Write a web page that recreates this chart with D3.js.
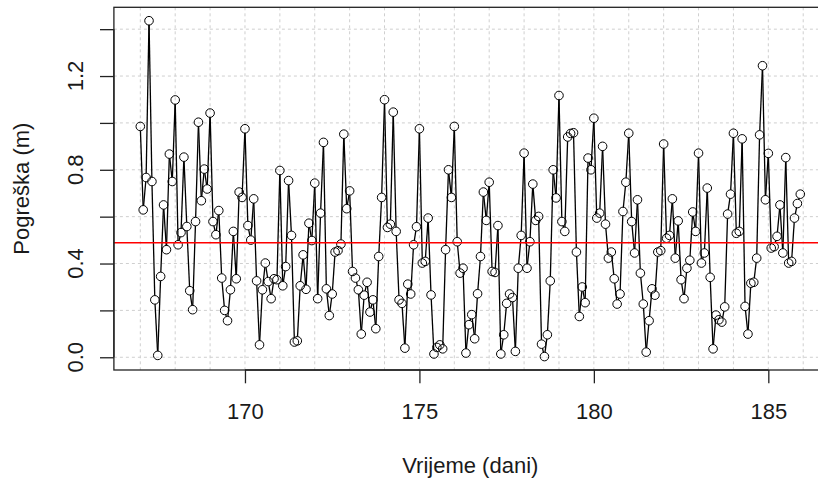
<!DOCTYPE html>
<html>
<head>
<meta charset="utf-8">
<script src="https://cdn.jsdelivr.net/npm/d3@7"></script>
<style>
  html, body { margin: 0; padding: 0; background: #ffffff; }
  svg { display: block; }
  text { font-family: "Liberation Sans", Arial, sans-serif; fill: #1a1a1a; }
</style>
</head>
<body>
<svg id="chart" width="818" height="479"></svg>
<script>
// ---- data ----
const startDay = 167.0;          // first sample time (days)
const stepDays = 1 / 12;         // sampling interval: 2 hours
const errorValues = [
  0.985, 0.629, 0.767, 1.436, 0.750, 0.245, 0.008, 0.345, 0.650, 0.459,
  0.867, 0.750, 1.098, 0.480, 0.532, 0.854, 0.558, 0.284, 0.203, 0.579,
  1.003, 0.668, 0.803, 0.718, 1.042, 0.579, 0.523, 0.626, 0.338, 0.200,
  0.156, 0.288, 0.537, 0.335, 0.705, 0.682, 0.975, 0.562, 0.500, 0.676,
  0.326, 0.053, 0.288, 0.402, 0.323, 0.250, 0.335, 0.331, 0.797, 0.305,
  0.387, 0.754, 0.520, 0.065, 0.070, 0.305, 0.437, 0.290, 0.572, 0.498,
  0.743, 0.250, 0.615, 0.917, 0.292, 0.178, 0.270, 0.449, 0.455, 0.483,
  0.952, 0.634, 0.710, 0.366, 0.338, 0.288, 0.099, 0.265, 0.320, 0.193,
  0.245, 0.122, 0.430, 0.682, 1.099, 0.554, 0.568, 1.046, 0.537, 0.245,
  0.230, 0.039, 0.312, 0.270, 0.480, 0.557, 0.975, 0.402, 0.409, 0.594,
  0.266, 0.014, 0.042, 0.053, 0.036, 0.459, 0.800, 0.682, 0.985, 0.493,
  0.359, 0.380, 0.018, 0.139, 0.182, 0.079, 0.271, 0.430, 0.705, 0.584,
  0.747, 0.366, 0.362, 0.562, 0.014, 0.096, 0.230, 0.270, 0.255, 0.025,
  0.380, 0.520, 0.871, 0.380, 0.493, 0.739, 0.584, 0.601, 0.056, 0.003,
  0.096, 0.326, 0.800, 0.680, 1.117, 0.579, 0.537, 0.940, 0.955, 0.958,
  0.449, 0.174, 0.300, 0.233, 0.850, 0.800, 1.020, 0.594, 0.615, 0.900,
  0.568, 0.423, 0.449, 0.335, 0.227, 0.270, 0.622, 0.747, 0.956, 0.579,
  0.445, 0.672, 0.359, 0.227, 0.022, 0.156, 0.292, 0.265, 0.449, 0.455,
  0.910, 0.508, 0.520, 0.676, 0.423, 0.582, 0.331, 0.250, 0.380, 0.414,
  0.620, 0.537, 0.871, 0.402, 0.445, 0.722, 0.341, 0.036, 0.180, 0.160,
  0.150, 0.215, 0.611, 0.696, 0.956, 0.529, 0.537, 0.932, 0.217, 0.099,
  0.316, 0.320, 0.423, 0.949, 1.244, 0.672, 0.870, 0.466, 0.472, 0.516,
  0.650, 0.445, 0.852, 0.402, 0.409, 0.594, 0.656, 0.696
];
const meanLine = 0.489;
const xTickValues = [170, 175, 180, 185];
const yTickValues = [0.0, 0.2, 0.4, 0.6, 0.8, 1.0, 1.2, 1.4];
const yLabelValues = [0.0, 0.4, 0.8, 1.2];
const xGridValues = d3.range(167, 187);
const xTitle = "Vrijeme (dani)";
const yTitle = "Pogreška (m)";

// ---- build ----
(function () {
const points = errorValues.map((v, i) => ({ t: startDay + i * stepDays, v }));

const svg = d3.select("#chart");
svg.append("rect").attr("width", 818).attr("height", 479).attr("fill", "#fff");

const pL = 113.9, pR = 826.7, pT = 7.3, pB = 370;

const tExt = d3.extent(points, d => d.t);
const vExt = d3.extent(points, d => d.v);
const tPad = (tExt[1] - tExt[0]) * 0.04;
const vPad = (vExt[1] - vExt[0]) * 0.04;

const x = d3.scaleLinear().domain([tExt[0] - tPad, tExt[1] + tPad]).range([pL, pR]);
const y = d3.scaleLinear().domain([vExt[0] - vPad, vExt[1] + vPad]).range([pB, pT]);

const gridColor = "#cfcfcf";
svg.append("g").selectAll("line").data(xGridValues).join("line")
  .attr("x1", d => x(d)).attr("x2", d => x(d))
  .attr("y1", pT).attr("y2", pB)
  .attr("stroke", gridColor).attr("stroke-width", 1)
  .attr("stroke-dasharray", "3,3");
svg.append("g").selectAll("line").data(yTickValues).join("line")
  .attr("x1", pL).attr("x2", pR)
  .attr("y1", d => y(d)).attr("y2", d => y(d))
  .attr("stroke", gridColor).attr("stroke-width", 1)
  .attr("stroke-dasharray", "3,3");

// series: type "b" (lines with gaps around the points)
const r = 4.3;
const segs = [];
for (let i = 0; i < points.length - 1; i++) {
  const x1 = x(points[i].t), y1 = y(points[i].v);
  const x2 = x(points[i + 1].t), y2 = y(points[i + 1].v);
  const len = Math.hypot(x2 - x1, y2 - y1);
  if (len <= 2 * r) continue;
  const ux = (x2 - x1) / len, uy = (y2 - y1) / len;
  segs.push({ x1: x1 + ux * r, y1: y1 + uy * r, x2: x2 - ux * r, y2: y2 - uy * r });
}
svg.append("g").selectAll("line").data(segs).join("line")
  .attr("x1", d => d.x1).attr("y1", d => d.y1)
  .attr("x2", d => d.x2).attr("y2", d => d.y2)
  .attr("stroke", "#000").attr("stroke-width", 1.3);

svg.append("g").selectAll("circle").data(points).join("circle")
  .attr("cx", d => x(d.t)).attr("cy", d => y(d.v)).attr("r", r)
  .attr("fill", "none").attr("stroke", "#000").attr("stroke-width", 1);

// mean line
svg.append("line")
  .attr("x1", pL).attr("x2", pR)
  .attr("y1", y(meanLine)).attr("y2", y(meanLine))
  .attr("stroke", "#ff0000").attr("stroke-width", 1.5);

// box
svg.append("rect")
  .attr("x", pL).attr("y", pT)
  .attr("width", pR - pL).attr("height", pB - pT)
  .attr("fill", "none").attr("stroke", "#222").attr("stroke-width", 1.3);

// x axis
const xAxisG = svg.append("g").attr("transform", `translate(0,${pB})`)
  .call(d3.axisBottom(x).tickValues(xTickValues).tickSize(13.3).tickFormat(d3.format("d")));
xAxisG.select(".domain").attr("stroke", "#222").attr("stroke-width", 1.3)
  .attr("d", `M${x(xTickValues[0])},0H${x(xTickValues[xTickValues.length - 1])}`);
xAxisG.selectAll(".tick line").attr("stroke", "#222").attr("stroke-width", 1.3);
xAxisG.selectAll(".tick text").attr("font-size", 22).attr("fill", "#1a1a1a")
  .attr("font-family", "Liberation Sans, Arial, sans-serif")
  .attr("dy", null).attr("y", 48.5);

// y axis
const yAxisG = svg.append("g").attr("transform", `translate(${pL},0)`)
  .call(d3.axisLeft(y).tickValues(yTickValues).tickSize(13.9).tickFormat(""));
yAxisG.select(".domain").attr("stroke", "#222").attr("stroke-width", 1.3)
  .attr("d", `M0,${y(yTickValues[0])}V${y(yTickValues[yTickValues.length - 1])}`);
yAxisG.selectAll(".tick line").attr("stroke", "#222").attr("stroke-width", 1.3);

svg.append("g").selectAll("text").data(yLabelValues).join("text")
  .attr("transform", d => `translate(83,${y(d)}) rotate(-90)`)
  .attr("text-anchor", "middle")
  .attr("font-size", 22)
  .text(d => d3.format(".1f")(d));

// titles
svg.append("text")
  .attr("x", (pL + pR) / 2).attr("y", 472.5)
  .attr("text-anchor", "middle").attr("font-size", 22)
  .text(xTitle);
svg.append("text")
  .attr("transform", `translate(29,${(pT + pB) / 2}) rotate(-90)`)
  .attr("text-anchor", "middle").attr("font-size", 22)
  .text(yTitle);
})();
</script>
</body>
</html>
